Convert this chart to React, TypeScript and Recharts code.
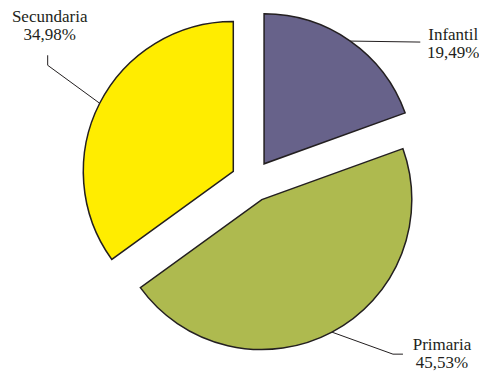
import React from 'react';
import { PieChart, Pie, Cell, Sector } from 'recharts';

const categories = ['Infantil', 'Primaria', 'Secundaria'];
const shares = [19.49, 45.53, 34.98];
const sliceColors = ['#67628a', '#aeba4f', '#ffed00'];

// leader line bends and text centre, relative to the arc point at mid angle
const leaderBends = [[[70, 1]], [[61, 22], [71, 22]], [[-52, -38], [-52, -48]]];
const textOffsets = [[103, -1], [110, 18], [-50, -81]];

const data = categories.map((name, i) => ({ name, value: shares[i] }));

const RAD = Math.PI / 180;
const EXPLODE = 21;
const FONT = '"Liberation Serif", "Times New Roman", serif';

const fmt = (v: number) => v.toFixed(2).replace('.', ',') + '%';

const shift = (midAngle: number, r: number) => ({
  dx: r * Math.cos(-midAngle * RAD),
  dy: r * Math.sin(-midAngle * RAD),
});

const ExplodedSector = (props: any) => {
  const { dx, dy } = shift(props.midAngle, EXPLODE);
  return <Sector {...props} cx={props.cx + dx} cy={props.cy + dy} />;
};

const renderLabel = (props: any) => {
  const { cx, cy, midAngle, outerRadius, index, name, value } = props;
  const { dx, dy } = shift(midAngle, outerRadius + EXPLODE);
  const px = cx + dx;
  const py = cy + dy;
  const pts = [[px, py], ...leaderBends[index].map(([x, y]) => [px + x, py + y])];
  const [tx, ty] = textOffsets[index];
  return (
    <g>
      <polyline
        points={pts.map((p) => p.join(',')).join(' ')}
        fill="none"
        stroke="#231f20"
        strokeWidth={1}
      />
      <text x={px + tx} y={py + ty} textAnchor="middle" fontFamily={FONT} fontSize={17} fill="#231f20">
        {name}
      </text>
      <text x={px + tx} y={py + ty + 18} textAnchor="middle" fontFamily={FONT} fontSize={17} fill="#231f20">
        {fmt(value)}
      </text>
    </g>
  );
};

const App: React.FC = () => {
  return (
    <div style={{ position: 'absolute', left: 0, top: 0, width: 479, height: 376, background: '#fff' }}>
      <PieChart width={479} height={376} margin={{ top: 0, right: 0, bottom: 0, left: 0 }}>
        <Pie
          data={data}
          dataKey="value"
          nameKey="name"
          cx={252}
          cy={181}
          outerRadius={150}
          startAngle={90}
          endAngle={-270}
          stroke="#231f20"
          strokeWidth={1.5}
          shape={ExplodedSector}
          label={renderLabel}
          labelLine={false}
          isAnimationActive={false}
        >
          {data.map((d, i) => (
            <Cell key={d.name} fill={sliceColors[i]} />
          ))}
        </Pie>
      </PieChart>
    </div>
  );
};

export default App;
